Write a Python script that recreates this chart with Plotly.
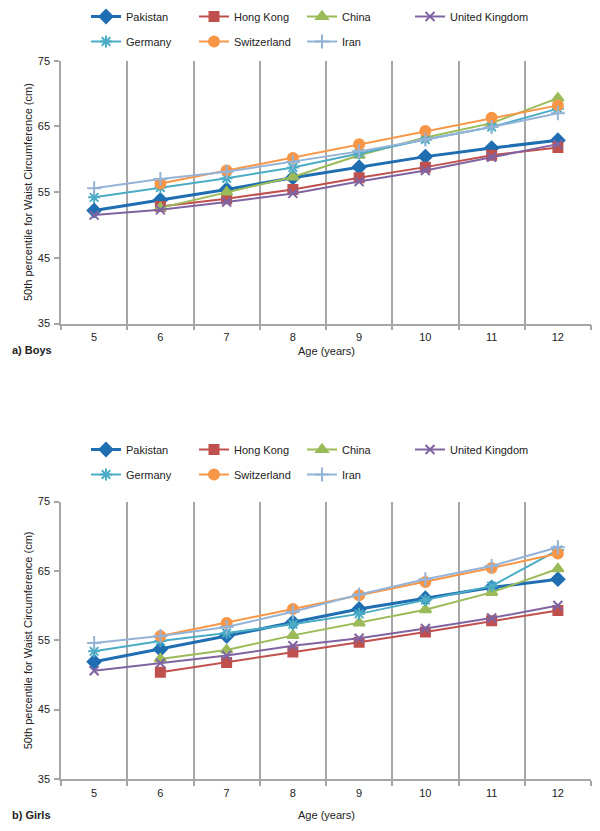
import plotly.graph_objects as go

ages = [5, 6, 7, 8, 9, 10, 11, 12]
countries = ["Pakistan", "Hong Kong", "China", "United Kingdom", "Germany", "Switzerland", "Iran"]

boys_pakistan = [52.2, 53.8, 55.4, 57.2, 58.8, 60.4, 61.7, 62.9]
boys_hongkong = [None, 52.8, 54.0, 55.4, 57.2, 58.8, 60.6, 61.8]
boys_china = [None, 52.6, 55.0, 57.3, 60.6, 63.3, 65.5, 69.3]
boys_uk = [51.5, 52.3, 53.5, 54.8, 56.6, 58.3, 60.3, 62.3]
boys_germany = [54.2, 55.7, 57.1, 58.75, 60.9, 63.0, 64.9, 67.7]
boys_switzerland = [None, 56.3, 58.3, 60.2, 62.3, 64.3, 66.3, 68.2]
boys_iran = [55.6, 57.0, 58.1, 59.6, 61.2, 63.0, 64.9, 67.0]

girls_pakistan = [51.9, 53.7, 55.6, 57.6, 59.5, 61.05, 62.6, 63.8]
girls_hongkong = [None, 50.4, 51.8, 53.3, 54.7, 56.2, 57.8, 59.3]
girls_china = [None, 52.3, 53.6, 55.7, 57.5, 59.4, 61.9, 65.3]
girls_uk = [50.6, 51.7, 52.8, 54.2, 55.3, 56.7, 58.2, 60.0]
girls_germany = [53.4, 54.9, 56.05, 57.3, 58.8, 60.8, 62.8, 68.0]
girls_switzerland = [None, 55.6, 57.5, 59.5, 61.5, 63.4, 65.4, 67.5]
girls_iran = [54.6, 55.6, 56.9, 59.1, 61.6, 63.8, 65.7, 68.4]

y_ticks = [35, 45, 55, 65, 75]

boys = [boys_pakistan, boys_hongkong, boys_china, boys_uk, boys_germany, boys_switzerland, boys_iran]
girls = [girls_pakistan, girls_hongkong, girls_china, girls_uk, girls_germany, girls_switzerland, girls_iran]

colors = ["#1F6EB2", "#C0504D", "#9BBB59", "#8064A2", "#4BACC6", "#F79646", "#95B3D7"]
symbols = ["diamond", "square", "triangle-up", "x-thin-open", "asterisk-open", "circle", "cross-thin-open"]
sizes = [10, 9, 10, 9, 10, 10, 10]
widths = [3, 2, 2, 2, 2, 2, 2]

FONT = "Liberation Sans, Arial, sans-serif"
FS = 11
W, H = 600, 831


def px(x):
    return x / W


def py(y):
    return 1 - y / H


# legend slot layout (column x, row top) for each country
leg_cols = [86, 194, 302, 410, 86, 194, 302]
leg_rows = [0, 0, 0, 0, 1, 1, 1]
panel_leg_top = [(2, 27), (435, 460)]

fig = go.Figure()
legends = {}
n = 0
panels = [(boys, "x", "y"), (girls, "x2", "y2")]
for p, (data, xa, ya) in enumerate(panels):
    for i, name in enumerate(countries):
        n += 1
        key = "legend" if n == 1 else f"legend{n}"
        legends[key] = dict(
            orientation="h", x=px(leg_cols[i]), y=py(panel_leg_top[p][leg_rows[i]]),
            xanchor="left", yanchor="top", font=dict(family=FONT, size=FS, color="#222"),
            bgcolor="rgba(0,0,0,0)", itemwidth=30,
        )
        fig.add_trace(go.Scatter(
            x=ages, y=data[i], name=name, mode="lines+markers",
            xaxis=xa, yaxis=ya, legend=key,
            line=dict(color=colors[i], width=widths[i]),
            marker=dict(symbol=symbols[i], size=sizes[i], color=colors[i],
                        line=dict(color=colors[i], width=2)),
            connectgaps=False,
        ))

grid = "#A6A6A6"
xcommon = dict(
    range=[4.5, 12.5], tickmode="array", tickvals=ages, ticktext=[str(a) for a in ages],
    ticks="", showgrid=False, showline=True, linecolor=grid, linewidth=1.5,
    zeroline=False, tickfont=dict(family=FONT, size=FS, color="#222"),
    ticklabelstandoff=3,
    minor=dict(tickvals=[a + 0.5 for a in [4] + ages], showgrid=True, gridcolor=grid,
               gridwidth=1.5, ticks="outside", ticklen=5, tickcolor=grid, tickwidth=1.5),
    automargin=False, fixedrange=True,
)
ycommon = dict(
    range=[35, 75], tickmode="array", tickvals=y_ticks, ticks="outside", ticklen=5,
    tickcolor=grid, tickwidth=1.5, showgrid=False, showline=True, linecolor=grid,
    linewidth=1.5, zeroline=False, tickfont=dict(family=FONT, size=FS, color="#222"),
    ticklabelstandoff=2, automargin=False, fixedrange=True,
)

xdom = [px(61), px(591)]
fig.update_layout(
    width=W, height=H, margin=dict(l=0, r=0, t=0, b=0),
    paper_bgcolor="white", plot_bgcolor="white",
    font=dict(family=FONT, size=FS, color="#222"),
    xaxis=dict(domain=xdom, anchor="y", **xcommon),
    yaxis=dict(domain=[py(323.5), py(60.7)], anchor="x", **ycommon),
    xaxis2=dict(domain=xdom, anchor="y2", **xcommon),
    yaxis2=dict(domain=[py(779), py(501.5)], anchor="x2", **ycommon),
    showlegend=True,
    **legends,
)

ytitle = "50th percentile for Waist Circumference (cm)"
annos = [
    dict(text="<b>a) Boys</b>", x=px(10), y=py(350), xanchor="left", yanchor="middle"),
    dict(text="Age (years)", x=px(326), y=py(351), xanchor="center", yanchor="middle"),
    dict(text="<b>b) Girls</b>", x=px(10), y=py(815), xanchor="left", yanchor="middle"),
    dict(text="Age (years)", x=px(326), y=py(815), xanchor="center", yanchor="middle"),
    dict(text=ytitle, x=px(28), y=py(192), xanchor="center", yanchor="middle", textangle=-90),
    dict(text=ytitle, x=px(28), y=py(640.3), xanchor="center", yanchor="middle", textangle=-90),
]
for a in annos:
    fig.add_annotation(xref="paper", yref="paper", showarrow=False,
                       font=dict(size=FS, family=FONT, color="#222"), **a)

fig.write_html("out.html", config={"displayModeBar": False},
               post_script="document.body.style.margin='0';")
